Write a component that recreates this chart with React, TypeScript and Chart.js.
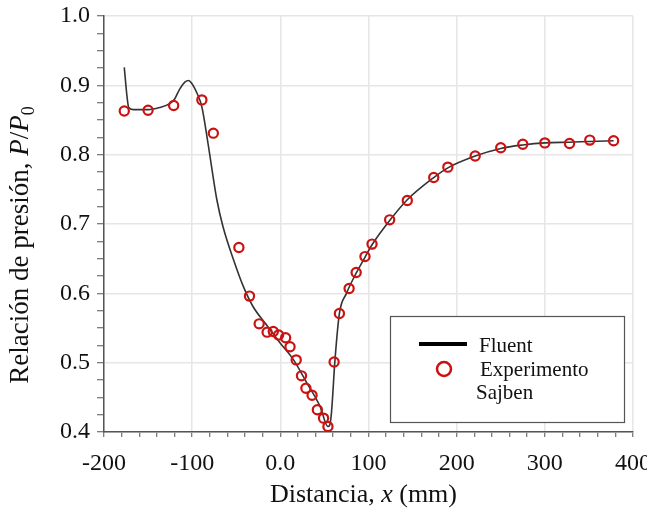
import React, { useEffect, useRef } from "react";
import { Chart, registerables } from "chart.js";

Chart.register(...registerables);

// Fluent (CFD) curve
const fluentX = [-177, -174, -172, -167, -150, -137, -125, -120, -114, -108, -104, -100, -95, -89, -82, -72, -65, -53, -42, -31, -16, 0, 15, 30, 45, 54, 56, 58, 62, 67, 75, 86, 96, 104, 124, 144, 174, 190, 221, 250, 275, 300, 328, 351, 378];
const fluentY = [0.926, 0.885, 0.868, 0.865, 0.865, 0.868, 0.874, 0.880, 0.895, 0.905, 0.907, 0.902, 0.890, 0.869, 0.816, 0.735, 0.696, 0.648, 0.610, 0.581, 0.555, 0.528, 0.504, 0.471, 0.437, 0.408, 0.410, 0.428, 0.504, 0.571, 0.600, 0.629, 0.652, 0.670, 0.705, 0.735, 0.767, 0.781, 0.798, 0.809, 0.814, 0.817, 0.818, 0.819, 0.820];

// Sajben experiment
const expX = [-177, -150, -121, -89, -76, -47, -35, -24, -15, -8, -2, 6, 11, 18, 24, 29, 36, 42, 49, 54, 61, 67, 78, 86, 96, 104, 124, 144, 174, 190, 221, 250, 275, 300, 328, 351, 378];
const expY = [0.863, 0.864, 0.871, 0.879, 0.831, 0.666, 0.596, 0.556, 0.544, 0.545, 0.540, 0.536, 0.523, 0.504, 0.481, 0.463, 0.453, 0.432, 0.420, 0.408, 0.501, 0.571, 0.607, 0.630, 0.653, 0.671, 0.706, 0.734, 0.767, 0.782, 0.798, 0.810, 0.815, 0.817, 0.816, 0.821, 0.820];

const xTickValues = [-200, -100, 0, 100, 200, 300, 400];
const xTickLabels = ["-200", "-100", "0.0", "100", "200", "300", "400"];
const yTickValues = [0.4, 0.5, 0.6, 0.7, 0.8, 0.9, 1.0];
const yTickLabels = ["0.4", "0.5", "0.6", "0.7", "0.8", "0.9", "1.0"];

const xTitleParts = [
  { text: "Distancia, ", style: "normal" },
  { text: "x", style: "italic" },
  { text: " (mm)", style: "normal" },
];
const yTitleParts = [
  { text: "Relación de presión, ", style: "normal" },
  { text: "P", style: "italic" },
  { text: "/", style: "normal" },
  { text: "P", style: "italic" },
  { text: "0", style: "sub" },
];
const legendLabels = ["Fluent", "Experimento", "Sajben"];

const FONT = "'Liberation Serif', 'Times New Roman', serif";
const RED = "#cc1111";
const LINE = "#333333";

function fontFor(style: string, size: number) {
  if (style === "italic") return `italic ${size}px ${FONT}`;
  if (style === "sub") return `${Math.round(size * 0.68)}px ${FONT}`;
  return `${size}px ${FONT}`;
}

function drawParts(ctx: CanvasRenderingContext2D, parts: { text: string; style: string }[], size: number) {
  let total = 0;
  const widths: number[] = [];
  for (const p of parts) {
    ctx.font = fontFor(p.style, size);
    const w = ctx.measureText(p.text).width;
    widths.push(w);
    total += w;
  }
  let x = -total / 2;
  parts.forEach((p, i) => {
    ctx.font = fontFor(p.style, size);
    ctx.fillText(p.text, x, p.style === "sub" ? size * 0.22 : 0);
    x += widths[i];
  });
}

const customPlugin = {
  id: "customText",
  afterDraw(chart: any) {
    const ctx: CanvasRenderingContext2D = chart.ctx;
    const a = chart.chartArea;
    ctx.save();
    ctx.fillStyle = "#111";
    ctx.textAlign = "left";
    ctx.textBaseline = "alphabetic";
    // x title
    ctx.save();
    ctx.translate((a.left + a.right) / 2 - 5, 502);
    drawParts(ctx, xTitleParts, 26);
    ctx.restore();
    // y title
    ctx.save();
    ctx.translate(28, 245);
    ctx.rotate(-Math.PI / 2);
    drawParts(ctx, yTitleParts, 27);
    ctx.restore();

    // legend
    ctx.fillStyle = "#fff";
    ctx.fillRect(390, 316, 234, 106);
    ctx.strokeStyle = "#555";
    ctx.lineWidth = 1.2;
    ctx.strokeRect(390.5, 316.5, 234, 106);
    ctx.strokeStyle = "#000";
    ctx.lineWidth = 4;
    ctx.beginPath();
    ctx.moveTo(419, 344);
    ctx.lineTo(467, 344);
    ctx.stroke();
    ctx.strokeStyle = RED;
    ctx.lineWidth = 2.5;
    ctx.beginPath();
    ctx.arc(444, 369, 7, 0, Math.PI * 2);
    ctx.stroke();
    ctx.fillStyle = "#111";
    ctx.font = `21px ${FONT}`;
    ctx.textBaseline = "alphabetic";
    ctx.fillText(legendLabels[0], 479, 352);
    ctx.fillText(legendLabels[1], 480, 376);
    ctx.fillText(legendLabels[2], 476, 399);
    ctx.restore();
  },
};

function isMajor(v: number, values: number[]) {
  return values.some((t) => Math.abs(t - v) < 1e-6);
}

export default function App() {
  const ref = useRef<HTMLCanvasElement | null>(null);
  useEffect(() => {
    if (!ref.current) return;
    const chart = new Chart(ref.current, {
      type: "scatter",
      data: {
        datasets: [
          {
            label: "Experimento Sajben",
            data: expX.map((x, i) => ({ x, y: expY[i] })),
            showLine: false,
            pointRadius: 4.6,
            pointBorderWidth: 2.2,
            pointBorderColor: RED,
            pointBackgroundColor: "rgba(0,0,0,0)",
            order: 0,
          },
          {
            label: "Fluent",
            data: fluentX.map((x, i) => ({ x, y: fluentY[i] })),
            showLine: true,
            borderColor: LINE,
            borderWidth: 1.6,
            pointRadius: 0,
            cubicInterpolationMode: "monotone",
            order: 1,
          },
        ],
      },
      options: {
        responsive: false,
        animation: false,
        layout: { padding: { left: 0, right: 14, top: 16, bottom: 0 } },
        plugins: { legend: { display: false }, tooltip: { enabled: false } },
        scales: {
          x: {
            type: "linear",
            min: -200,
            max: 400,
            afterFit: (s: any) => {
              s.height = 76;
              s.paddingLeft = 0;
              s.paddingRight = 0;
            },
            ticks: {
              stepSize: 20,
              autoSkip: false,
              maxRotation: 0,
              padding: 12,
              color: "#111",
              font: { family: FONT, size: 24 },
              callback: (v: any) => {
                const i = xTickValues.findIndex((t) => Math.abs(t - v) < 1e-6);
                return i >= 0 ? xTickLabels[i] : "";
              },
            },
            grid: {
              color: (c: any) => (c.tick && isMajor(c.tick.value, xTickValues) ? "#e6e6e6" : "rgba(0,0,0,0)"),
              lineWidth: 1.5,
              tickColor: "#555",
              tickLength: 5,
              tickWidth: 1,
            },
            border: { display: true, color: "#555", width: 1.5 },
          },
          y: {
            type: "linear",
            min: 0.4,
            max: 1.0,
            afterFit: (s: any) => {
              s.width = 104;
              s.paddingTop = 0;
              s.paddingBottom = 0;
            },
            ticks: {
              stepSize: 0.025,
              autoSkip: false,
              padding: 7,
              color: "#111",
              font: { family: FONT, size: 24 },
              callback: (v: any) => {
                const i = yTickValues.findIndex((t) => Math.abs(t - v) < 1e-6);
                return i >= 0 ? yTickLabels[i] : "";
              },
            },
            grid: {
              color: (c: any) => (c.tick && isMajor(c.tick.value, yTickValues) ? "#e6e6e6" : "rgba(0,0,0,0)"),
              lineWidth: 1.5,
              tickColor: "#555",
              tickLength: 7,
              tickWidth: 1,
            },
            border: { display: true, color: "#555", width: 1.5 },
          },
        },
      },
      plugins: [customPlugin],
    } as any);
    return () => chart.destroy();
  }, []);
  return (
    <div style={{ position: "fixed", left: 0, top: 0, width: 647, height: 508, background: "#fff" }}>
      <canvas ref={ref} width={647} height={508} />
    </div>
  );
}
